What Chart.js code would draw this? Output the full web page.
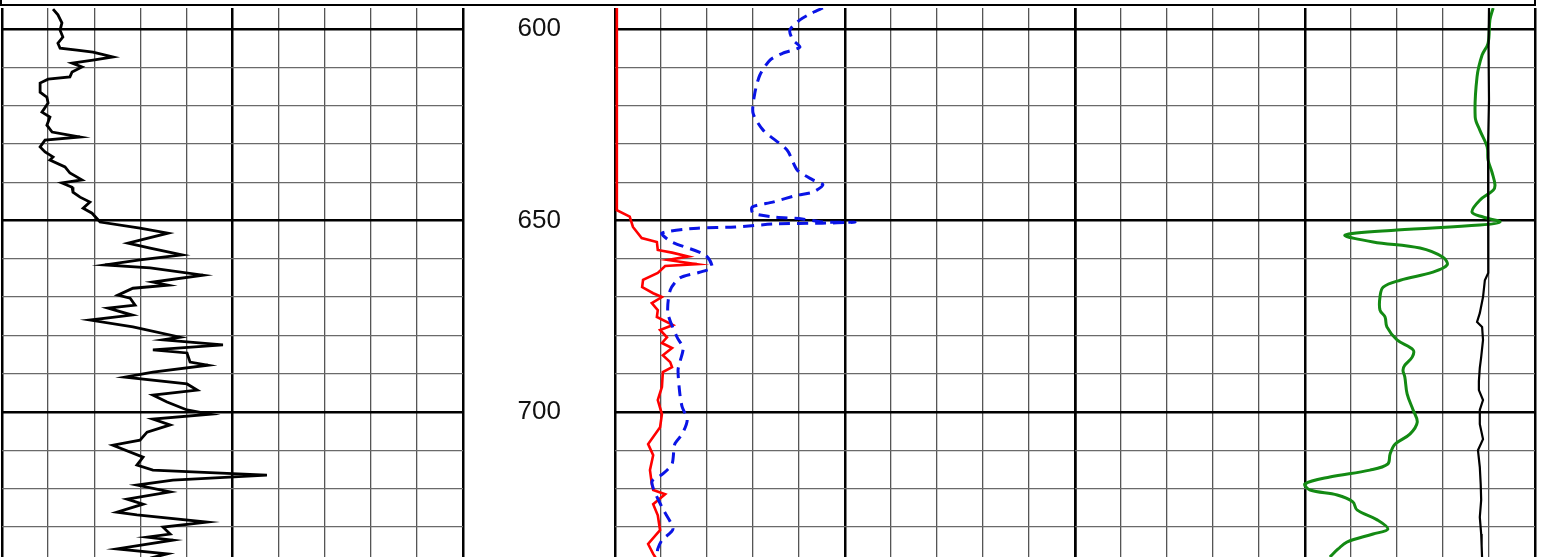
<!DOCTYPE html>
<html><head><meta charset="utf-8">
<script src="https://cdn.jsdelivr.net/npm/chart.js@4.4.1/dist/chart.umd.min.js"></script>
<style>
html,body{margin:0;padding:0;background:#fff;overflow:hidden;width:1547px;height:557px;position:relative;}
canvas{position:absolute;}
#hdr{position:absolute;left:0;top:-10px;width:1532px;height:12px;border:2px solid #000;}
</style></head><body>
<div id="hdr"></div>
<canvas id="t1" width="469" height="557" style="left:-2px;top:4px"></canvas>
<canvas id="dep" width="152" height="557" style="left:463px;top:4px"></canvas>
<canvas id="t3" width="468" height="557" style="left:611px;top:4px"></canvas>
<canvas id="t4" width="468" height="557" style="left:1071px;top:4px"></canvas>
<script>
// ---- depth range / ticks ----
const depthMin = 594.5;
const depthMax = 737.9;
const depthLabels = [600, 650, 700];

// ---- Track 1: gamma ray (0-150) ----
const grDepth = [594.8,596.3,598.4,600.3,602.1,603.7,605.0,605.5,606.0,607.3,608.1,608.9,609.9,611.2,612.5,613.1,614.1,616.5,617.8,619.3,621.7,623.0,625.1,626.9,628.2,629.0,630.8,632.1,633.4,634.2,636.0,637.6,639.4,640.2,641.3,642.6,643.9,645.2,646.8,648.1,650.4,652.0,653.3,655.9,657.2,659.0,660.3,661.6,662.4,664.3,666.1,666.9,667.7,669.5,670.3,672.1,672.9,674.7,676.0,677.8,680.5,681.2,682.5,683.8,684.6,687.0,687.8,689.6,690.9,692.7,694.3,695.6,697.4,699.5,700.6,701.9,703.4,705.3,707.4,708.7,711.8,713.9,715.2,716.5,717.8,719.1,720.9,722.8,724.1,726.2,726.9,728.8,730.1,731.9,732.7,733.5,735.8,737.1,738.2];
const grValue = [16.6,18.2,19.5,18.9,19.8,18.2,18.9,24.4,29.6,36.1,29.6,22.8,26.0,22.8,22.1,15.0,12.4,12.4,14.6,15.0,13.0,15.6,14.6,16.3,25.4,14.0,12.4,14.0,16.6,15.6,20.5,22.1,26.0,19.5,22.8,23.1,25.4,28.6,26.4,29.3,31.9,44.9,54.0,41.0,48.2,58.6,44.9,33.5,48.2,65.4,49.1,54.0,42.6,37.7,41.7,43.3,34.5,42.3,28.6,42.6,57.9,52.4,71.9,49.1,60.2,61.2,67.0,49.1,40.0,60.2,63.5,49.1,53.7,60.2,67.7,49.1,54.7,47.2,44.9,36.1,45.9,43.9,49.1,86.2,55.6,43.9,54.7,40.7,45.9,37.4,43.9,66.7,52.4,54.7,47.2,55.6,37.4,53.7,48.2];

// ---- Track 3: red solid and blue dashed (0-100) ----
const redDepth = [594.5,647.3,649.0,651.7,654.6,655.6,657.7,658.4,659.4,660.3,661.4,661.9,663.7,665.5,667.4,669.0,670.0,671.6,673.4,675.2,677.3,678.6,680.5,682.0,683.3,685.2,687.0,688.3,689.6,693.5,696.9,700.6,704.0,708.4,711.3,715.2,718.8,720.4,721.5,724.1,727.0,730.9,734.5,737.1,738.2];
const redValue = [0.4,0.4,3.2,3.9,5.8,9.1,9.3,12.4,15.9,11.5,17.8,10.9,9.3,6.1,5.9,8.3,10.2,8.0,9.3,9.1,12.6,9.8,11.3,10.2,12.4,10.4,12.0,12.4,10.4,10.2,9.3,10.2,9.8,7.2,8.3,7.6,8.0,8.3,10.9,8.3,9.3,9.8,7.2,8.3,8.9];
const blueDepth = [594.5,595.8,597.6,600.3,602.9,604.7,606.3,608.1,612.0,616.7,621.9,626.4,631.6,636.8,639.4,640.7,642.6,643.4,645.2,646.5,648.1,649.1,649.6,650.4,650.45,650.7,650.9,651.7,652.0,653.3,655.6,659.0,662.2,663.5,665.0,668.2,674.2,680.5,683.3,687.0,689.1,695.3,698.7,702.1,705.8,708.4,713.6,716.2,718.3,724.9,730.6,733.5,735.8,738.2];
const blueValue = [45.2,42.8,40.2,38.0,38.7,40.2,36.5,33.7,31.5,30.4,30.0,32.2,37.4,39.6,43.0,45.2,43.0,39.6,34.3,29.8,30.0,34.8,40.7,45.0,52.2,45.0,34.8,26.1,18.0,10.2,12.3,19.6,21.1,18.5,14.1,12.0,11.5,13.5,14.8,14.1,13.7,14.1,14.6,15.7,14.6,13.0,12.4,10.4,8.0,10.2,12.6,10.2,9.3,9.1];

// ---- Track 4: green and black (0-100) ----
const greenDepth = [594.5,597.6,603.7,606.8,612.5,623.0,626.4,630.8,634.2,637.6,640.7,642.1,644.7,647.8,649.1,650.4,651.2,652.5,653.8,655.6,657.2,659.6,661.6,663.5,665.6,667.4,670.0,673.4,675.2,677.8,681.2,683.8,685.7,687.8,689.1,690.9,695.3,699.5,702.7,705.8,708.4,711.0,713.6,715.2,717.0,718.8,720.4,721.7,723.5,725.6,728.2,730.6,731.9,734.0,735.8,737.9];
const greenValue = [90.9,90.2,89.8,88.5,87.4,87.0,88.0,89.6,89.8,90.7,91.3,90.9,88.0,86.3,88.7,92.4,88.0,70.0,58.7,64.8,75.0,80.0,80.9,77.8,70.7,67.0,66.3,66.3,67.4,67.8,70.0,73.5,73.3,71.7,71.3,71.7,72.2,73.5,74.4,72.8,69.6,68.5,68.0,64.1,55.4,50.0,51.1,57.0,60.4,61.3,65.7,68.0,64.8,59.1,57.2,55.4];
const blackDepth = [594.5,605.0,618.5,630.0,644.7,655.0,663.7,665.6,670.0,674.2,676.5,677.8,681.2,685.7,688.5,692.0,694.3,696.9,699.5,703.2,707.1,710.0,714.4,719.0,723.0,727.5,731.9,735.0,738.2];
const blackValue = [90.0,89.9,90.0,89.8,89.8,89.9,89.8,89.1,88.7,88.0,87.4,88.5,88.7,88.3,88.0,87.8,87.8,88.7,88.0,88.0,88.7,87.6,88.0,88.2,88.3,88.0,88.3,88.4,88.5];

const pts = (vals, deps) => vals.map((v, i) => ({x: v, y: deps[i]}));

function yScale() {
  return {
    type: 'linear', reverse: true, min: depthMin, max: depthMax,
    ticks: {display: false, stepSize: 10, includeBounds: false},
    border: {display: false},
    grid: {
      drawTicks: false,
      color: c => (c.tick && c.tick.value % 50 === 0) ? '#000' : '#6a6a6a',
      lineWidth: c => (c.tick && c.tick.value % 50 === 0) ? 2.5 : 1.3
    }
  };
}
function xScale(max, step, majorEvery) {
  return {
    type: 'linear', min: 0, max: max,
    ticks: {display: false, stepSize: step, includeBounds: false},
    border: {display: false},
    grid: {
      drawTicks: false,
      color: c => (c.tick && Math.abs(c.tick.value % majorEvery) < 1e-6) ? '#000' : '#555',
      lineWidth: c => (c.tick && Math.abs(c.tick.value % majorEvery) < 1e-6) ? 2.5 : 1.3
    }
  };
}
const baseOpts = (xs) => ({
  responsive: false, animation: false, events: [],
  layout: {padding: 4},
  plugins: {legend: {display: false}, tooltip: {enabled: false}},
  elements: {point: {radius: 0}},
  scales: {x: xs, y: yScale()}
});

new Chart(document.getElementById('t1'), {
  type: 'line',
  data: {datasets: [
    {data: pts(grValue, grDepth), borderColor: '#000', borderWidth: 2.8, tension: 0, fill: false}
  ]},
  options: baseOpts(xScale(150, 15, 75))
});

new Chart(document.getElementById('t3'), {
  type: 'line',
  data: {datasets: [
    {data: pts(blueValue, blueDepth), borderColor: '#0a14e6', borderWidth: 3, borderDash: [11, 7], tension: 0.25, fill: false},
    {data: pts(redValue, redDepth), borderColor: '#ff0000', borderWidth: 2.6, tension: 0, fill: false}
  ]},
  options: baseOpts(xScale(100, 10, 50))
});

new Chart(document.getElementById('t4'), {
  type: 'line',
  data: {datasets: [
    {data: pts(blackValue, blackDepth), borderColor: '#000', borderWidth: 2.2, tension: 0, fill: false},
    {data: pts(greenValue, greenDepth), borderColor: '#138a13', borderWidth: 3, tension: 0.35, fill: false}
  ]},
  options: baseOpts(xScale(100, 10, 50))
});

new Chart(document.getElementById('dep'), {
  type: 'line',
  data: {datasets: []},
  options: {
    responsive: false, animation: false, events: [],
    layout: {padding: {top: 4, bottom: 4, left: 0, right: 0}},
    plugins: {legend: {display: false}, tooltip: {enabled: false}},
    scales: {
      x: {type: 'linear', display: false, min: 0, max: 1},
      y: {
        type: 'linear', reverse: true, min: depthMin, max: depthMax,
        afterFit: s => { s.width = 109; s.paddingTop = 0; s.paddingBottom = 0; },
        afterBuildTicks: s => { s.ticks = depthLabels.map(v => ({value: v})); },
        border: {display: false},
        grid: {display: false},
        ticks: {padding: 3, color: '#111', font: {family: 'Arial, "Liberation Sans", sans-serif', size: 26}}
      }
    }
  }
});
</script>
</body></html>
